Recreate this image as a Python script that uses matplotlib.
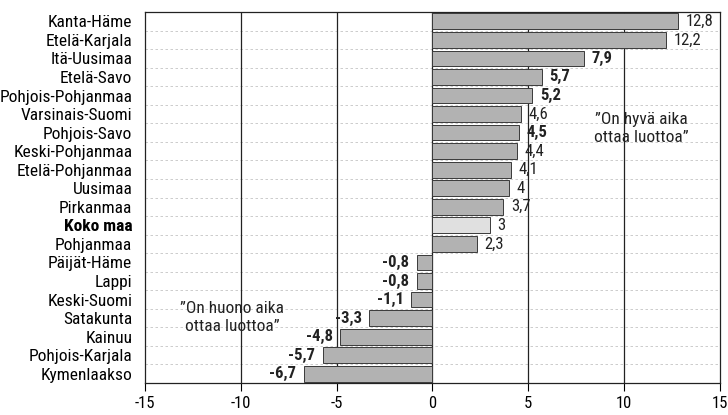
import matplotlib
matplotlib.use("Agg")
import matplotlib.pyplot as plt
from matplotlib import font_manager
import numpy as np

names = set(f.name for f in font_manager.fontManager.ttflist)
narrow = [n for n in ["Liberation Sans Narrow", "Roboto Condensed", "Open Sans Condensed",
                      "DejaVu Sans Condensed"] if n in names]
plt.rcParams['font.family'] = narrow + ['DejaVu Sans']
plt.rcParams['font.stretch'] = 'condensed'

# alueet ylhäältä alas
regions = ["Kanta-Häme", "Etelä-Karjala", "Itä-Uusimaa", "Etelä-Savo",
           "Pohjois-Pohjanmaa", "Varsinais-Suomi", "Pohjois-Savo",
           "Keski-Pohjanmaa", "Etelä-Pohjanmaa", "Uusimaa", "Pirkanmaa",
           "Koko maa", "Pohjanmaa", "Päijät-Häme", "Lappi", "Keski-Suomi",
           "Satakunta", "Kainuu", "Pohjois-Karjala", "Kymenlaakso"]
values = [12.8, 12.2, 7.9, 5.7, 5.2, 4.6, 4.5, 4.4, 4.1, 4.0, 3.7,
          3.0, 2.3, -0.8, -0.8, -1.1, -3.3, -4.8, -5.7, -6.7]
bold_labels = {"Itä-Uusimaa", "Etelä-Savo", "Pohjois-Pohjanmaa", "Pohjois-Savo",
               "Päijät-Häme", "Lappi", "Keski-Suomi", "Satakunta", "Kainuu",
               "Pohjois-Karjala", "Kymenlaakso"}
total_name = "Koko maa"
x_ticks = [-15, -10, -5, 0, 5, 10, 15]
note_good = "\u201dOn hyvä aika\nottaa luottoa\u201d"
note_bad = "\u201dOn huono aika\nottaa luottoa\u201d"


def fmt(v):
    s = ("%.1f" % v).replace(".", ",")
    if s.endswith(",0"):
        s = s[:-2]
    return s


fig = plt.figure(figsize=(7.28, 4.15), dpi=100)
ax = fig.add_axes([0.199, 0.077, 0.790, 0.894])

n = len(regions)
y = np.arange(n)
colors = ["#e0e0e0" if r == total_name else "#b2b2b2" for r in regions]
ax.barh(y, values, height=0.85, color=colors, edgecolor="#3a3a3a", linewidth=0.7, zorder=3)

# vaakasuorat katkoviivat rivien väliin
for b in np.arange(-0.5, n + 0.5, 1.0)[1:-1]:
    ax.axhline(b, color="#c4c4c4", linewidth=0.6, linestyle=(0, (3, 3)), zorder=1)
for t in x_ticks[1:-1]:
    ax.axvline(t, color="#222222", linewidth=0.9, zorder=2)

for i, (r, v) in enumerate(zip(regions, values)):
    w = "bold" if r in bold_labels else "normal"
    if v >= 0:
        ax.text(v + 0.4, i, fmt(v), va="center", ha="left", fontsize=12,
                fontweight=w, color="#222222", zorder=4)
    else:
        ax.text(v - 0.4, i, fmt(v), va="center", ha="right", fontsize=12,
                fontweight=w, color="#222222", zorder=4)

ax.text(10.9, 5.78, note_good, ha="center", va="center", fontsize=12.5, color="#222222",
        linespacing=1.25, zorder=4)
ax.text(-10.46, 15.94, note_bad, ha="center", va="center", fontsize=12.5, color="#222222",
        linespacing=1.25, zorder=4)

ax.set_xlim(-15, 15)
ax.set_ylim(n - 0.5, -0.5)
ax.set_xticks(x_ticks)
ax.set_xticklabels([str(t) for t in x_ticks], fontsize=12)
ax.set_yticks(y)
ax.set_yticklabels(regions, fontsize=12.5)
for lab in ax.get_yticklabels():
    if lab.get_text() == total_name:
        lab.set_fontweight("bold")
ax.tick_params(axis="y", length=0, pad=9)
ax.tick_params(axis="x", length=6, width=0.8, direction="out", pad=3)
for s in ax.spines.values():
    s.set_linewidth(0.9)
    s.set_color("#222222")

fig.savefig("out.png", dpi=100)
